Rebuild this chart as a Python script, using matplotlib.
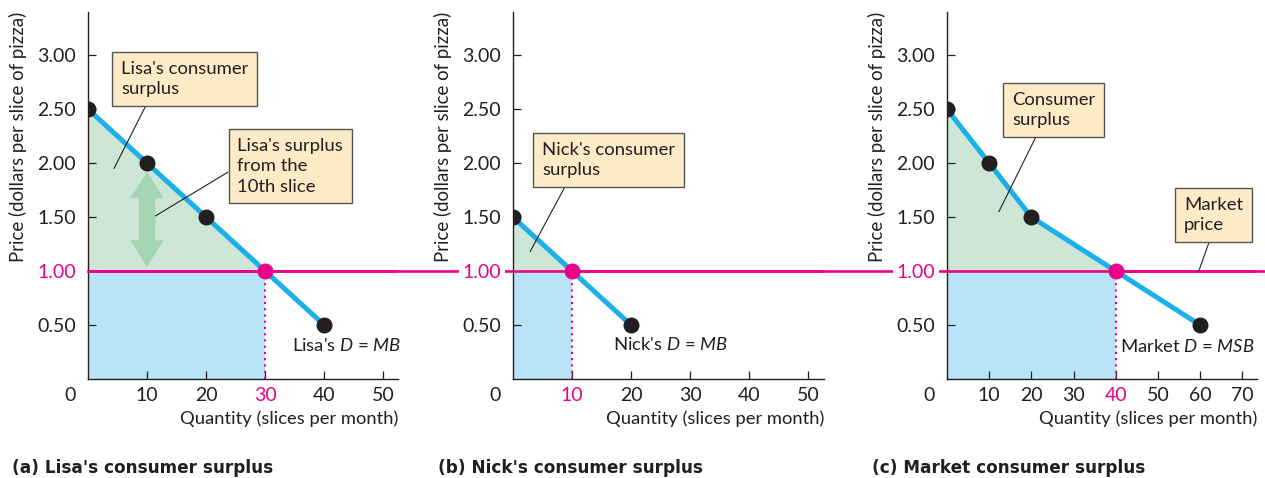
import matplotlib.pyplot as plt
import matplotlib.transforms as mtransforms
from matplotlib.patches import FancyArrowPatch

plt.rcParams['font.family'] = ['Lato', 'DejaVu Sans']
plt.rcParams['mathtext.fontset'] = 'custom'
plt.rcParams['mathtext.rm'] = 'Lato'
plt.rcParams['mathtext.it'] = 'Lato:italic'

# data
price = 1.0
lisa_q = [0, 10, 20, 30, 40]
lisa_p = [2.5, 2.0, 1.5, 1.0, 0.5]
nick_q = [0, 10, 20]
nick_p = [1.5, 1.0, 0.5]
market_q = [0, 10, 20, 40, 60]
market_p = [2.5, 2.0, 1.5, 1.0, 0.5]
y_ticks = [0.5, 1.0, 1.5, 2.0, 2.5, 3.0]
y_labels = ['0.50', '1.00', '1.50', '2.00', '2.50', '3.00']
lisa_xticks = [10, 20, 30, 40, 50]
nick_xticks = [10, 20, 30, 40, 50]
market_xticks = [10, 20, 30, 40, 50, 60, 70]

INK = '#231f20'
BLUE = '#1bb0ea'
PINK = '#ec008c'
GREEN_FILL = '#cde6d5'
BLUE_FILL = '#b9e4f8'
BOX = dict(boxstyle='square,pad=0.48', fc='#fdebc8', ec='#555555', lw=1.0)
FS = 13.3
LS = 1.32

W, H = 1265, 478
fig = plt.figure(figsize=(W / 100, H / 100), dpi=100)


def add_axes(left, right, top=12, bottom=379):
    return fig.add_axes([left / W, 1 - bottom / H, (right - left) / W, (bottom - top) / H])


def draw_panel(ax, q, p, xmax, xticks, white_label):
    k = p.index(price)
    qstar = q[k]
    ax.set_facecolor('none')
    ax.set_xlim(0, xmax)
    ax.set_ylim(0, 3.40)
    for s in ['top', 'right']:
        ax.spines[s].set_visible(False)
    for s in ['left', 'bottom']:
        ax.spines[s].set_color(INK)
        ax.spines[s].set_linewidth(1.0)
    ax.tick_params(direction='in', length=6, width=0.9, color=INK,
                   labelsize=14, labelcolor=INK)
    ax.tick_params(axis='y', pad=8.5)
    ax.tick_params(axis='x', pad=6.0)
    ax.set_yticks(y_ticks, y_labels)
    ax.set_xticks(xticks, [str(t) for t in xticks])
    for lab, t in zip(ax.get_yticklabels(), y_ticks):
        if t == price:
            lab.set_color(PINK)
            if white_label:
                lab.set_bbox(dict(fc='white', ec='none', pad=2.5))
    for lab, t in zip(ax.get_xticklabels(), xticks):
        if t == qstar:
            lab.set_color(PINK)
    ax.annotate('0', xy=(0, 0), xytext=(-13, -5.8), textcoords='offset points',
                ha='center', va='top', fontsize=14, color=INK)

    # surplus areas
    ax.fill_between([0, qstar], 0, price, color=BLUE_FILL, lw=0, zorder=1)
    ax.fill_between(q[:k + 1], p[:k + 1], price, color=GREEN_FILL, lw=0, zorder=1)
    ax.plot([qstar, qstar], [0, price], color=PINK, lw=1.5, ls=(0, (1, 2)), zorder=3)
    ax.axhline(price, color=PINK, lw=1.9, zorder=4)

    ax.plot(q, p, color=BLUE, lw=3.6, solid_capstyle='round', zorder=5)
    others = [i for i in range(len(q)) if i != k]
    ax.plot([q[i] for i in others], [p[i] for i in others], 'o', color=INK,
            ms=10.5, zorder=6)
    ax.plot([qstar], [price], 'o', color=PINK, ms=10.5, zorder=6)

    ax.set_ylabel('Price (dollars per slice of pizza)', loc='top', fontsize=13.4, color=INK)
    ax.yaxis.set_label_coords(-0.196, 1.0)
    ax.set_xlabel('Quantity (slices per month)', loc='right', fontsize=13.2, color=INK)
    ax.xaxis.set_label_coords(1.0, -0.086)


ax_a = add_axes(88, 398)
ax_b = add_axes(513, 824)
ax_c = add_axes(947, 1257)

draw_panel(ax_a, lisa_q, lisa_p, 52.5, lisa_xticks, False)
draw_panel(ax_b, nick_q, nick_p, 52.7, nick_xticks, True)
draw_panel(ax_c, market_q, market_p, 73.5, market_xticks, True)

# market price line running across all panels
tr = mtransforms.blended_transform_factory(fig.transFigure, ax_a.transData)
ax_a.plot([ax_a.get_position().x0, 1.0], [price, price], color=PINK, lw=1.9,
          transform=tr, clip_on=False, zorder=4)

leader = dict(arrowstyle='-', lw=0.8, color=INK, shrinkA=0, shrinkB=0)

# panel a
ax_a.annotate("Lisa's consumer\nsurplus", xy=(4.4, 1.95), xytext=(5.6, 2.95),
              ha='left', va='top', fontsize=FS, color=INK, bbox=BOX, linespacing=LS,
              arrowprops=dict(leader, relpos=(0.23, 0)), zorder=7)
ax_a.annotate("Lisa's surplus\nfrom the\n10th slice", xy=(11.4, 1.51), xytext=(25.3, 2.23),
              ha='left', va='top', fontsize=FS, color=INK, bbox=BOX, linespacing=LS,
              arrowprops=dict(leader, relpos=(0, 0.5)), zorder=7)
for end in (lisa_p[1] - 0.08, price + 0.04):
    ax_a.add_patch(FancyArrowPatch((10, 1.48), (10, end),
                                   arrowstyle='simple,head_width=24,head_length=19,tail_width=12',
                                   mutation_scale=1, shrinkA=0, shrinkB=0,
                                   color='#a4d5b4', lw=0, zorder=2))
ax_a.text(34.6, 0.31, "Lisa's $D$ = $MB$", ha='left', va='center', fontsize=FS, color=INK)

# panel b
ax_b.annotate("Nick's consumer\nsurplus", xy=(2.9, 1.18), xytext=(4.9, 2.20),
              ha='left', va='top', fontsize=FS, color=INK, bbox=BOX, linespacing=LS,
              arrowprops=dict(leader, relpos=(0.21, 0)), zorder=7)
ax_b.text(16.9, 0.32, "Nick's $D$ = $MB$", ha='left', va='center', fontsize=FS, color=INK)

# panel c
ax_c.annotate("Consumer\nsurplus", xy=(12.3, 1.55), xytext=(15.4, 2.66),
              ha='left', va='top', fontsize=FS, color=INK, bbox=BOX, linespacing=LS,
              arrowprops=dict(leader, relpos=(0.34, 0)), zorder=7)
ax_c.annotate("Market\nprice", xy=(59.7, 1.0), xytext=(56.2, 1.69),
              ha='left', va='top', fontsize=FS, color=INK, bbox=BOX, linespacing=LS,
              arrowprops=dict(leader, relpos=(0.48, 0)), zorder=7)
ax_c.text(41.0, 0.30, "Market $D$ = $MSB$", ha='left', va='center', fontsize=FS, color=INK)

# panel captions
for x, s in [(12, "(a) Lisa's consumer surplus"), (438, "(b) Nick's consumer surplus"),
             (872, "(c) Market consumer surplus")]:
    fig.text(x / W, 1 - 468 / H, s, ha='left', va='center', fontsize=12.2,
             fontweight='bold', family='DejaVu Sans', color=INK)

fig.savefig('out.png', dpi=100)
